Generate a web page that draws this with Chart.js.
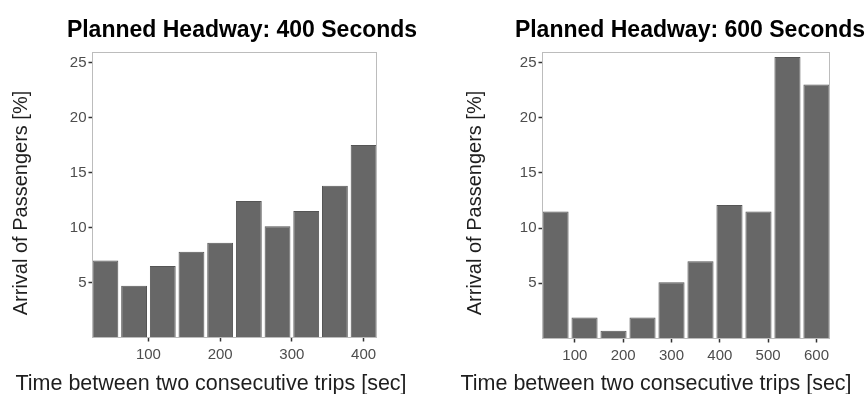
<!DOCTYPE html>
<html>
<head>
<meta charset="utf-8">
<script src="https://cdn.jsdelivr.net/npm/chart.js@4/dist/chart.umd.min.js"></script>
<style>
  html, body { margin: 0; padding: 0; background: #fff; }
  #wrap { position: relative; width: 868px; height: 394px; overflow: hidden; }
  canvas { position: absolute; top: 0; }
  #c400 { left: 0; }
  #c600 { left: 434px; }
</style>
</head>
<body>
<div id="wrap">
  <canvas id="c400" width="434" height="394"></canvas>
  <canvas id="c600" width="434" height="394"></canvas>
</div>
<script>
// Bin centres (seconds between consecutive trips) and passenger-arrival shares (%)
const bins400 = [40, 80, 120, 160, 200, 240, 280, 320, 360, 400];
const share400 = [7.0, 4.7, 6.5, 7.8, 8.6, 12.4, 10.1, 11.5, 13.8, 17.5];

const bins600 = [60, 120, 180, 240, 300, 360, 420, 480, 540, 600];
const share600 = [11.5, 1.9, 0.7, 1.9, 5.1, 7.0, 12.1, 11.5, 25.5, 23.0];

const xTicks400 = [100, 200, 300, 400];
const xTicks600 = [100, 200, 300, 400, 500, 600];
const yTicks = [5, 10, 15, 20, 25];

const titles = ['Planned Headway: 400 Seconds', 'Planned Headway: 600 Seconds'];
const xTitle = 'Time between two consecutive trips [sec]';
const yTitle = 'Arrival of Passengers [%]';

const FONT = "'Liberation Sans', Arial, Helvetica, sans-serif";

// Panel frame plus free-positioned title / axis-title text
const panelDecor = {
  id: 'panelDecor',
  afterDatasetsDraw(chart, args, opts) {
    const ctx = chart.ctx;
    const a = chart.chartArea;
    ctx.save();
    ctx.strokeStyle = '#bcbcbc';
    ctx.lineWidth = 1;
    ctx.strokeRect(a.left, a.top, a.right - a.left, a.bottom - a.top);
    ctx.restore();
  },
  afterDraw(chart, args, opts) {
    const ctx = chart.ctx;
    (opts.texts || []).forEach(t => {
      ctx.save();
      ctx.font = t.font;
      ctx.fillStyle = t.color;
      ctx.textAlign = 'center';
      ctx.textBaseline = t.baseline || 'alphabetic';
      ctx.translate(t.x, t.y);
      if (t.rotate) ctx.rotate(t.rotate);
      ctx.fillText(t.text, 0, 0);
      ctx.restore();
    });
  }
};

function makeChart(id, bins, values, xTicks, xMin, xMax, area, textPos, title) {
  const W = 434, H = 394;
  return new Chart(document.getElementById(id), {
    type: 'bar',
    data: {
      datasets: [{
        data: bins.map((b, i) => ({ x: b, y: values[i] })),
        backgroundColor: '#676767',
        borderColor: '#555555',
        borderWidth: 1,
        categoryPercentage: 1.0,
        barPercentage: 0.9
      }]
    },
    options: {
      responsive: false,
      animation: false,
      devicePixelRatio: 1,
      layout: {
        padding: { left: 0, top: area.top, right: W - area.right, bottom: 0 }
      },
      plugins: {
        legend: { display: false },
        tooltip: { enabled: false },
        title: { display: false },
        panelDecor: {
          texts: [
            { text: title, x: textPos.titleX, y: 36.5, font: `bold 23px ${FONT}`, color: '#000000' },
            { text: xTitle, x: textPos.xTitleX, y: 389.5, font: `21.5px ${FONT}`, color: '#1e1e1e' },
            { text: yTitle, x: textPos.yTitleX, y: 203, font: `20px ${FONT}`, color: '#1e1e1e',
              rotate: -Math.PI / 2, baseline: 'middle' }
          ]
        }
      },
      scales: {
        x: {
          type: 'linear',
          min: xMin,
          max: xMax,
          offset: false,
          afterBuildTicks: s => { s.ticks = xTicks.map(v => ({ value: v })); },
          afterFit: s => { s.height = H - area.bottom; },
          grid: {
            offset: false,
            drawOnChartArea: false,
            drawTicks: true,
            tickLength: 4,
            tickColor: '#333333',
            tickWidth: 1.5
          },
          border: { display: false },
          ticks: {
            padding: 4,
            maxRotation: 0,
            autoSkip: false,
            color: '#4d4d4d',
            font: { family: FONT, size: 15 }
          }
        },
        y: {
          type: 'linear',
          min: 0,
          max: 25.9,
          afterBuildTicks: s => { s.ticks = yTicks.map(v => ({ value: v })); },
          afterFit: s => { s.width = area.left; },
          grid: {
            drawOnChartArea: false,
            drawTicks: true,
            tickLength: 4,
            tickColor: '#333333',
            tickWidth: 1.5
          },
          border: { display: false },
          ticks: {
            padding: 2,
            color: '#4d4d4d',
            font: { family: FONT, size: 15 }
          }
        }
      }
    },
    plugins: [panelDecor]
  });
}

makeChart('c400', bins400, share400, xTicks400, 22, 418,
  { left: 92.5, right: 376.5, top: 52.5, bottom: 337.5 },
  { titleX: 242, xTitleX: 211, yTitleX: 21 }, titles[0]);

makeChart('c600', bins600, share600, xTicks600, 33, 627,
  { left: 108.5, right: 395.5, top: 52.5, bottom: 338.5 },
  { titleX: 256, xTitleX: 222, yTitleX: 41.5 }, titles[1]);
</script>
</body>
</html>
